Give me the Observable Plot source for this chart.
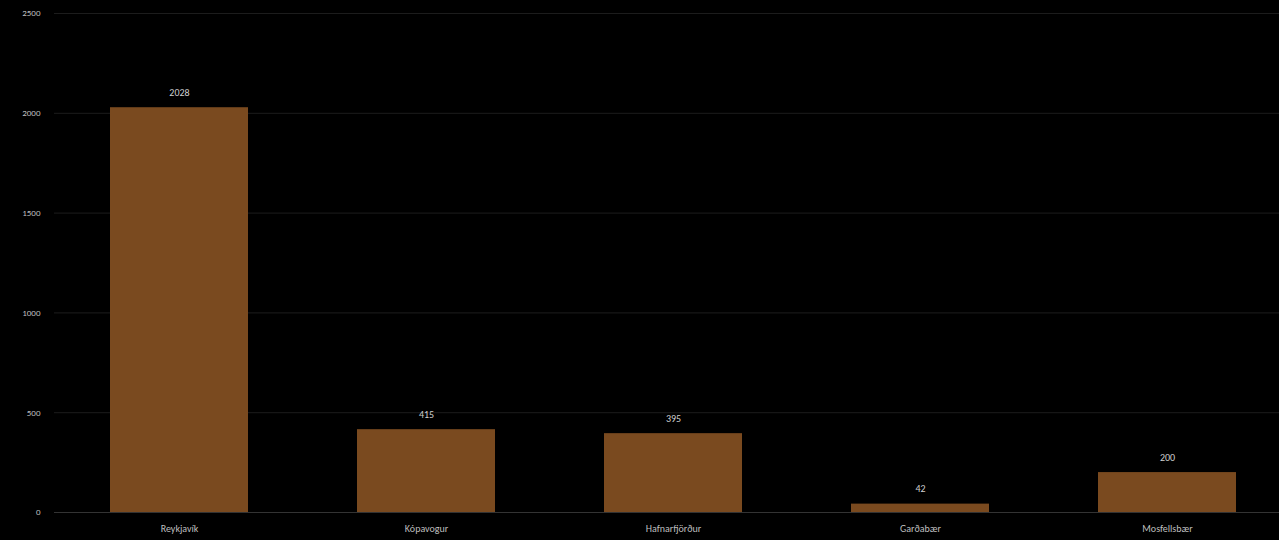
<!DOCTYPE html>
<html>
<head>
<meta charset="utf-8">
<script src="https://cdn.jsdelivr.net/npm/d3@7"></script>
<script src="https://cdn.jsdelivr.net/npm/@observablehq/plot@0.6"></script>
<style>
  html, body { margin: 0; padding: 0; background: #000; overflow: hidden; }
  #chart svg { display: block; max-width: none !important; height: 540px !important; }
</style>
</head>
<body>
<div id="chart"></div>
<script>
const categories = ["Reykjavík", "Kópavogur", "Hafnarfjörður", "Garðabær", "Mosfellsbær"];
const values = [2028, 415, 395, 42, 200];
const yTicks = [0, 500, 1000, 1500, 2000, 2500];

const data = categories.map((c, i) => ({category: c, value: values[i]}));

const chart = Plot.plot({
  width: 1292,
  height: 540,
  marginLeft: 54,
  marginRight: 0,
  marginTop: 13,
  marginBottom: 28,
  style: {background: "#000", color: "#bfbfbf", fontFamily: "Calibri, 'Liberation Sans', sans-serif", fontSize: "9px"},
  x: {domain: categories, paddingInner: 0.443, paddingOuter: 0.222, label: null},
  y: {domain: [0, 2500], ticks: yTicks, label: null},
  marks: [
    Plot.gridY(yTicks, {stroke: "#1c1c1c", strokeOpacity: 1}),
    Plot.barY(data, {x: "category", y: "value", fill: "#7a4a1f"}),
    Plot.ruleY([0], {stroke: "#333333"}),
    Plot.text(data, {x: "category", y: "value", text: d => String(d.value), dy: -15, fill: "#cfcfcf", fontSize: 10}),
    Plot.axisY({ticks: yTicks, tickFormat: d => String(d), tickSize: 0, tickPadding: 14, fill: "#bfbfbf", fontSize: 9}),
    Plot.axisX({tickSize: 0, tickPadding: 12, fill: "#bfbfbf", fontSize: 10})
  ]
});
document.getElementById("chart").appendChild(chart);
</script>
</body>
</html>
